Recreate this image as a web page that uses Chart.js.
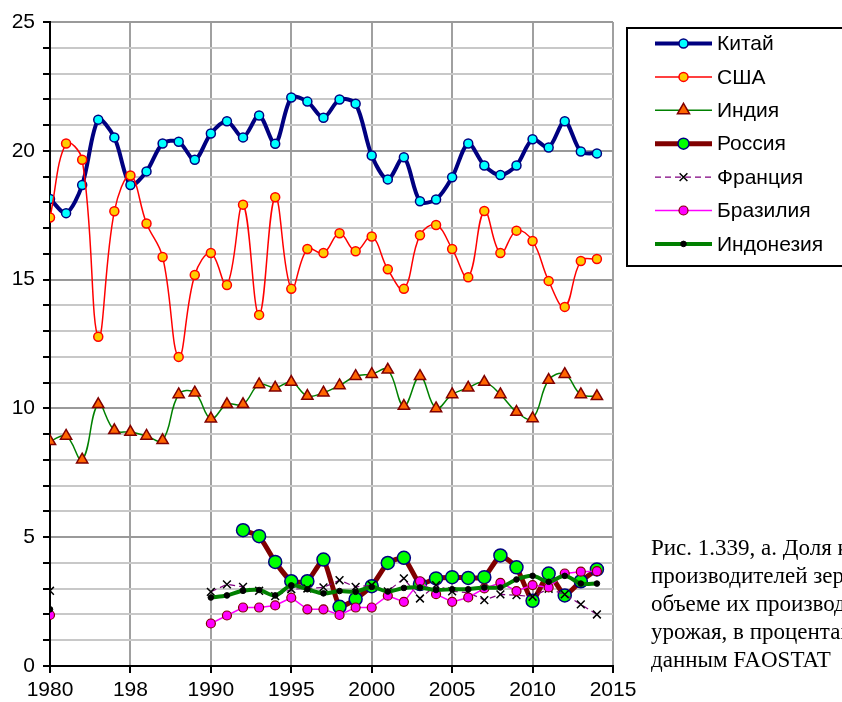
<!DOCTYPE html>
<html>
<head>
<meta charset="utf-8">
<script src="https://cdn.jsdelivr.net/npm/chart.js@4.4.1/dist/chart.umd.min.js"></script>
<style>
  html, body { margin: 0; padding: 0; background: #ffffff; }
  #wrap { width: 842px; height: 702px; position: relative; }
</style>
</head>
<body>
<div id="wrap"><canvas id="chart" width="842" height="702"></canvas></div>
<script>
// Years on the horizontal axis
const years = [1980,1981,1982,1983,1984,1985,1986,1987,1988,1989,
               1990,1991,1992,1993,1994,1995,1996,1997,1998,1999,
               2000,2001,2002,2003,2004,2005,2006,2007,2008,2009,
               2010,2011,2012,2013,2014];

// Share of world grain harvest, %
const china = [18.13,17.58,18.67,21.21,20.52,18.67,19.20,20.28,20.35,19.65,
               20.67,21.15,20.52,21.37,20.27,22.07,21.91,21.28,21.99,21.83,
               19.82,18.89,19.75,18.04,18.11,18.97,20.28,19.43,19.06,19.43,
               20.45,20.13,21.15,19.97,19.90];
const usa = [17.41,20.28,19.65,12.78,17.65,19.04,17.18,15.88,12.00,15.18,
             16.03,14.79,17.91,13.63,18.20,14.64,16.19,16.03,16.80,16.10,
             16.67,15.40,14.64,16.72,17.12,16.19,15.09,17.66,16.03,16.90,
             16.50,14.95,13.94,15.72,15.80];
const india = [8.72,8.93,8.01,10.16,9.15,9.08,8.93,8.76,10.54,10.61,
               9.60,10.16,10.16,10.93,10.80,11.02,10.48,10.61,10.89,11.25,
               11.33,11.50,10.09,11.25,10.00,10.54,10.80,11.02,10.54,9.86,
               9.61,11.10,11.33,10.54,10.47];
const russia = [null,null,null,null,null,null,null,null,null,null,
                null,null,5.27,5.04,4.04,3.29,3.29,4.13,2.30,2.60,
                3.10,4.00,4.20,3.18,3.40,3.45,3.42,3.45,4.29,3.83,
                2.53,3.59,2.74,3.29,3.75];
const france = [2.92,null,null,null,null,null,null,null,null,null,
                2.88,3.17,3.07,2.92,2.71,2.98,3.01,3.05,3.33,3.07,
                3.14,2.90,3.40,2.62,3.14,2.90,2.85,2.56,2.78,2.75,
                2.69,3.00,2.78,2.39,2.00];
const brazil = [1.98,null,null,null,null,null,null,null,null,null,
                1.65,1.96,2.27,2.27,2.35,2.65,2.20,2.20,1.98,2.27,
                2.27,2.73,2.49,3.29,2.79,2.49,2.66,3.01,3.23,2.91,
                3.14,3.05,3.59,3.66,3.68];
const indonesia = [2.20,null,null,null,null,null,null,null,null,null,
                   2.66,2.74,2.92,2.95,2.74,3.13,2.98,2.82,2.91,2.88,
                   3.07,2.89,3.03,3.05,2.95,2.98,2.98,3.05,3.05,3.36,
                   3.50,3.27,3.50,3.20,3.20];

const seriesNames = ['Китай','США','Индия','Россия','Франция','Бразилия','Индонезия'];

// Horizontal axis tick labels (the 1985 label is printed short)
const xTickLabels = {1980:'1980',1985:'198',1990:'1990',1995:'1995',2000:'2000',2005:'2005',2010:'2010',2015:'2015'};

const captionLines = [
  'Рис. 1.339, а. Доля крупнейших',
  'производителей зерна в мировом',
  'объеме их производства (валового',
  'урожая, в процентах), по',
  'данным FAOSTAT'
];

const toPoints = vals => years.map((y, i) => ({x: y, y: vals[i]}));

const styles = [
  {data: china,     line:'#000080', lw:4,   bg:'#00FFFF', bd:'#000080', ps:'circle',   r:4.5, pbw:1.5, tension:0.3},
  {data: usa,       line:'#FF0000', lw:1.5, bg:'#FFCC00', bd:'#FF0000', ps:'circle',   r:4.5, pbw:1.5, tension:0.4},
  {data: india,     line:'#008000', lw:1.5, bg:'#FF6600', bd:'#800000', ps:'triangle', r:6.5, pbw:1.5, tension:0.4},
  {data: russia,    line:'#800000', lw:5,   bg:'#00FF00', bd:'#000080', ps:'circle',   r:6.5, pbw:1.5, tension:0.15},
  {data: france,    line:'#800080', lw:1.2, bg:'#000000', bd:'#000000', ps:'crossRot', r:5.5, pbw:1.5, tension:0, dash:[6,4]},
  {data: brazil,    line:'#FF00FF', lw:1.5, bg:'#FF00FF', bd:'#800000', ps:'circle',   r:4.5, pbw:1.2, tension:0},
  {data: indonesia, line:'#008000', lw:4,   bg:'#000000', bd:'#000000', ps:'circle',   r:2.8, pbw:1,   tension:0.3}
];

const datasets = styles.map((s, i) => ({
  label: seriesNames[i],
  data: toPoints(s.data),
  borderColor: s.line,
  borderWidth: s.lw,
  borderDash: s.dash || [],
  backgroundColor: s.bg,
  pointStyle: s.ps,
  pointRadius: s.r,
  pointBackgroundColor: s.bg,
  pointBorderColor: s.bd,
  pointBorderWidth: s.pbw,
  tension: s.tension,
  spanGaps: false,
  fill: false,
  order: styles.length - i
}));

// Legend box at the upper right
const legendPlugin = {
  id: 'boxLegend',
  afterDraw(chart) {
    const ctx = chart.ctx;
    ctx.save();
    ctx.strokeStyle = '#000000';
    ctx.lineWidth = 2;
    ctx.strokeRect(627, 28, 240, 238);
    const rowY0 = 43.5, rowStep = 33.4;
    chart.data.datasets.forEach((ds, i) => {
      const y = rowY0 + i * rowStep;
      ctx.save();
      ctx.strokeStyle = ds.borderColor;
      ctx.lineWidth = ds.borderWidth;
      ctx.setLineDash(ds.borderDash || []);
      ctx.beginPath();
      ctx.moveTo(655, y);
      ctx.lineTo(712, y);
      ctx.stroke();
      ctx.restore();
      ctx.save();
      ctx.fillStyle = ds.pointBackgroundColor;
      ctx.strokeStyle = ds.pointBorderColor;
      ctx.lineWidth = ds.pointBorderWidth;
      Chart.helpers.drawPoint(ctx, {
        pointStyle: ds.pointStyle,
        radius: ds.pointStyle === 'triangle' ? 7 : Math.min(ds.pointRadius, 5.5),
        rotation: 0,
        borderWidth: ds.pointBorderWidth
      }, 683.5, y);
      ctx.restore();
      ctx.fillStyle = '#000000';
      ctx.font = '21px "Liberation Sans", Arial, sans-serif';
      ctx.textBaseline = 'middle';
      ctx.textAlign = 'left';
      ctx.fillText(ds.label, 717, y + 1);
    });
    ctx.restore();
  }
};

// Figure caption at the lower right
const captionPlugin = {
  id: 'caption',
  afterDraw(chart) {
    const ctx = chart.ctx;
    ctx.save();
    ctx.fillStyle = '#000000';
    ctx.font = '23px "Liberation Serif", "Times New Roman", serif';
    ctx.textBaseline = 'middle';
    ctx.textAlign = 'left';
    captionLines.forEach((t, i) => ctx.fillText(t, 651, 549 + i * 28));
    ctx.restore();
  }
};

const axisFont = {family: '"Liberation Sans", Arial, sans-serif', size: 21};

new Chart(document.getElementById('chart'), {
  type: 'line',
  data: {datasets},
  options: {
    responsive: false,
    animation: false,
    events: [],
    layout: {padding: {left: 0, top: 22, right: 229, bottom: 0}},
    plugins: {legend: {display: false}, tooltip: {enabled: false}},
    scales: {
      x: {
        type: 'linear',
        min: 1980, max: 2015,
        afterFit: s => { s.height = 36; },
        afterBuildTicks: s => { s.ticks = Object.keys(xTickLabels).map(v => ({value: +v})); },
        ticks: {
          callback: v => xTickLabels[v] || '',
          color: '#000000', font: axisFont, padding: 5, maxRotation: 0, autoSkip: false
        },
        grid: {color: '#A0A0A0', lineWidth: 2, tickColor: '#000000', tickLength: 7, tickWidth: 2},
        border: {color: '#000000', width: 2}
      },
      y: {
        min: 0, max: 25,
        afterFit: s => { s.width = 50; },
        ticks: {
          stepSize: 1,
          callback: v => (v % 5 === 0 ? String(v) : ''),
          color: '#000000', font: axisFont, padding: 8, autoSkip: false
        },
        grid: {
          color: c => (c.tick && c.tick.value % 5 === 0 ? '#9A9A9A' : '#C8C8C8'),
          lineWidth: 2, tickColor: '#000000', tickLength: 7, tickWidth: 2
        },
        border: {color: '#000000', width: 2}
      }
    }
  },
  plugins: [legendPlugin, captionPlugin]
});
</script>
</body>
</html>
